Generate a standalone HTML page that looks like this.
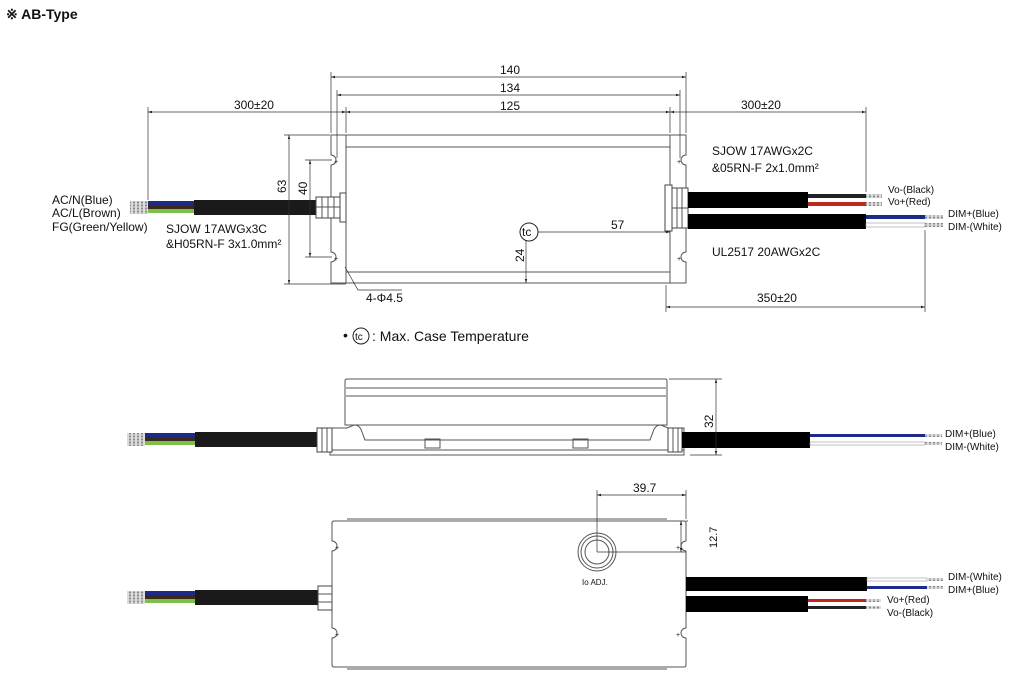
<!DOCTYPE html>
<html><head><meta charset="utf-8"><style>
html,body{margin:0;padding:0;background:#fff;}
svg{display:block;font-family:"Liberation Sans",Arial,sans-serif;}
.l{stroke:#555;stroke-width:1;fill:none}
.d{stroke:#333;stroke-width:0.7;fill:none}
.t{font-size:12px;fill:#111}
.s{font-size:10px;fill:#111}
</style></head><body>
<svg width="1024" height="684" viewBox="0 0 1024 684" xmlns="http://www.w3.org/2000/svg">
<defs>
<marker id="a" viewBox="0 0 10 10" refX="10" refY="5" markerWidth="6" markerHeight="6" orient="auto-start-reverse"><path d="M0,2 L10,5 L0,8z" fill="#222"/></marker>
<pattern id="st" width="4" height="3" patternUnits="userSpaceOnUse"><rect width="4" height="3" fill="#ddd"/><circle cx="2" cy="1.5" r="1.1" fill="#888"/></pattern>
</defs>
<text x="6" y="19" style="font-size:14px;font-weight:bold" fill="#111">※ AB-Type</text>

<!-- ===== TOP VIEW ===== -->
<path class="l" d="M331,135 H346 V283 H331 V262 a5,5 0 0 0 0,-10 V165 a5,5 0 0 0 0,-10 Z"/>
<path class="l" d="M686,135 H670 V283 H686 V262 a5,5 0 0 1 0,-10 V165 a5,5 0 0 1 0,-10 Z"/>
<rect class="l" x="346" y="135" width="324" height="148"/>
<line class="l" x1="346" y1="147" x2="670" y2="147"/>
<line class="l" x1="346" y1="272" x2="670" y2="272"/>
<text class="s" x="334" y="164" style="font-size:7px">+</text><text class="s" x="334" y="261" style="font-size:7px">+</text>
<text class="s" x="677" y="164" style="font-size:7px">+</text><text class="s" x="677" y="261" style="font-size:7px">+</text>
<!-- left cable -->
<rect x="130" y="201" width="18" height="13" fill="url(#st)"/>
<rect x="148" y="201" width="46" height="4" fill="#1c2a8a"/>
<rect x="148" y="205" width="46" height="4" fill="#3a2a1a"/>
<rect x="148" y="209" width="46" height="4" fill="#7cc04a"/>
<rect x="194" y="200" width="122" height="15" fill="#1a1a1a"/>
<rect x="316" y="197" width="24" height="21" fill="#fff" stroke="#444"/>
<path class="l" d="M322,197v21M328,197v21M334,197v21M316,207h24"/>
<rect x="340" y="193" width="6" height="29" fill="#fff" stroke="#444"/>
<!-- right cables -->
<rect x="665" y="185" width="7" height="46" fill="#fff" stroke="#444"/>
<rect x="672" y="188" width="16" height="40" fill="#fff" stroke="#444"/>
<path class="l" d="M677,188v40M682,188v40M672,208h16"/>
<rect x="688" y="192" width="120" height="16" fill="#000"/>
<rect x="808" y="194" width="58" height="4" fill="#222"/>
<rect x="808" y="202" width="58" height="4" fill="#c0261c"/>
<rect x="866" y="194" width="16" height="4" fill="url(#st)"/><rect x="866" y="202" width="16" height="4" fill="url(#st)"/>
<rect x="688" y="214" width="178" height="15" fill="#000"/>
<rect x="866" y="215" width="59" height="4" fill="#1c2a8a"/>
<rect x="866" y="223" width="59" height="4" fill="#fff" stroke="#999" stroke-width="0.6"/>
<rect x="925" y="215" width="18" height="4" fill="url(#st)"/><rect x="925" y="223" width="18" height="4" fill="url(#st)"/>
<!-- dims -->
<path class="d" d="M331,133V72M686,133V72M337,158V90M680,158V90M346,133V107M670,133V107M148,200V107M866,192V107"/>
<line class="d" x1="331" y1="77" x2="686" y2="77" marker-start="url(#a)" marker-end="url(#a)"/>
<line class="d" x1="337" y1="95" x2="680" y2="95" marker-start="url(#a)" marker-end="url(#a)"/>
<line class="d" x1="346" y1="112" x2="670" y2="112" marker-start="url(#a)" marker-end="url(#a)"/>
<line class="d" x1="148" y1="112" x2="346" y2="112" marker-start="url(#a)" marker-end="url(#a)"/>
<line class="d" x1="670" y1="112" x2="866" y2="112" marker-start="url(#a)" marker-end="url(#a)"/>
<text class="t" x="500" y="74">140</text><text class="t" x="500" y="92">134</text><text class="t" x="500" y="110">125</text>
<text class="t" x="234" y="109">300±20</text><text class="t" x="741" y="109">300±20</text>
<path class="d" d="M284,135H330M284,284H346M305,160H332M305,257H332"/>
<line class="d" x1="289" y1="135" x2="289" y2="284" marker-start="url(#a)" marker-end="url(#a)"/>
<line class="d" x1="310" y1="160" x2="310" y2="257" marker-start="url(#a)" marker-end="url(#a)"/>
<text class="t" transform="translate(286,193) rotate(-90)">63</text>
<text class="t" transform="translate(307,195) rotate(-90)">40</text>
<circle cx="529" cy="232" r="9" fill="#fff" stroke="#222"/><text class="t" x="522" y="236">tc</text>
<line class="d" x1="538" y1="232" x2="670" y2="232" marker-end="url(#a)"/>
<text class="t" x="611" y="229">57</text>
<line class="d" x1="526" y1="241" x2="526" y2="283" marker-end="url(#a)"/>
<text class="t" transform="translate(524,262) rotate(-90)">24</text>
<path class="d" d="M666,285V312M925,230V312M345,267L358,290H402"/>
<line class="d" x1="666" y1="307" x2="925" y2="307" marker-start="url(#a)" marker-end="url(#a)"/>
<text class="t" x="757" y="302">350±20</text>
<text class="t" x="366" y="302">4-Φ4.5</text>
<text class="t" x="52" y="204">AC/N(Blue)</text>
<text class="t" x="52" y="217">AC/L(Brown)</text>
<text class="t" x="52" y="231">FG(Green/Yellow)</text>
<text class="t" x="166" y="233">SJOW 17AWGx3C</text>
<text class="t" x="166" y="248">&amp;H05RN-F 3x1.0mm²</text>
<text class="t" x="712" y="155">SJOW 17AWGx2C</text>
<text class="t" x="712" y="172">&amp;05RN-F  2x1.0mm²</text>
<text class="t" x="712" y="256">UL2517 20AWGx2C</text>
<text class="s" x="888" y="193">Vo-(Black)</text><text class="s" x="888" y="205">Vo+(Red)</text>
<text class="s" x="948" y="217">DIM+(Blue)</text><text class="s" x="948" y="230">DIM-(White)</text>
<!-- legend -->
<text class="t" x="343" y="340" style="font-size:14px">•</text>
<circle cx="361" cy="336" r="8" fill="#fff" stroke="#222"/><text class="s" x="355" y="340">tc</text>
<text class="t" x="372" y="341" style="font-size:14px">: Max. Case Temperature</text>

<!-- ===== SIDE VIEW ===== -->
<path class="l" d="M345,381 Q345,379 347,379 H665 Q667,379 667,381 V425 H345 Z"/>
<path class="l" d="M346,388H666M346,396H666"/>
<path class="l" d="M330,455 V428 H347 L354,425 Q360,425 362,432 L365,440 H650 L653,432 Q655,425 661,425 L668,428 H684 V455 Z"/>
<line class="l" x1="331" y1="450" x2="684" y2="450"/>
<rect class="l" x="425" y="439" width="15" height="9"/>
<rect class="l" x="573" y="439" width="15" height="9"/>
<rect x="127" y="433" width="18" height="13" fill="url(#st)"/>
<rect x="145" y="433" width="50" height="4" fill="#1c2a8a"/>
<rect x="145" y="437" width="50" height="4" fill="#3a2a1a"/>
<rect x="145" y="441" width="50" height="4" fill="#7cc04a"/>
<rect x="195" y="432" width="122" height="15" fill="#1a1a1a"/>
<rect x="317" y="428" width="15" height="24" fill="#fff" stroke="#444"/><path class="l" d="M322,428v24M327,428v24"/>
<rect x="668" y="428" width="14" height="24" fill="#fff" stroke="#444"/><path class="l" d="M673,428v24M678,428v24"/>
<rect x="682" y="432" width="128" height="16" fill="#000"/>
<rect x="810" y="434" width="115" height="3" fill="#1c2a8a"/>
<rect x="810" y="442" width="115" height="3" fill="#fff" stroke="#999" stroke-width="0.6"/>
<rect x="925" y="434" width="17" height="3" fill="url(#st)"/><rect x="925" y="442" width="17" height="3" fill="url(#st)"/>
<text class="s" x="945" y="437">DIM+(Blue)</text><text class="s" x="945" y="450">DIM-(White)</text>
<path class="d" d="M669,379H722M690,455H722"/>
<line class="d" x1="716" y1="379" x2="716" y2="455" marker-start="url(#a)" marker-end="url(#a)"/>
<text class="t" transform="translate(713,428) rotate(-90)">32</text>

<!-- ===== BOTTOM VIEW ===== -->
<path class="l" d="M334,521 H684 Q686,521 686,523 V541 a5,5 0 0 0 0,10 V628 a5,5 0 0 0 0,10 V665 Q686,667 684,667 H334 Q332,667 332,665 V638 a5,5 0 0 0 0,-10 V551 a5,5 0 0 0 0,-10 V523 Q332,521 334,521 Z"/>
<path class="l" d="M347,519H667M347,669H667"/>
<text class="s" x="335" y="550" style="font-size:7px">+</text><text class="s" x="335" y="637" style="font-size:7px">+</text>
<text class="s" x="676" y="550" style="font-size:7px">+</text><text class="s" x="676" y="637" style="font-size:7px">+</text>
<circle class="l" cx="597" cy="552" r="19"/><circle class="l" cx="597" cy="552" r="16"/><circle class="l" cx="597" cy="552" r="12"/>
<text class="s" x="582" y="585" style="font-size:8px">Io  ADJ.</text>
<path class="d" d="M597,552V490M686,519V490M597,552H686M688,521H686"/>
<line class="d" x1="597" y1="495" x2="686" y2="495" marker-start="url(#a)" marker-end="url(#a)"/>
<text class="t" x="633" y="492">39.7</text>
<line class="d" x1="681" y1="521" x2="681" y2="552" marker-start="url(#a)" marker-end="url(#a)"/>
<text class="t" transform="translate(717,548) rotate(-90)" style="font-size:11px">12.7</text>
<rect x="127" y="591" width="18" height="13" fill="url(#st)"/>
<rect x="145" y="591" width="50" height="4" fill="#1c2a8a"/>
<rect x="145" y="595" width="50" height="4" fill="#3a2a1a"/>
<rect x="145" y="599" width="50" height="4" fill="#7cc04a"/>
<rect x="195" y="590" width="123" height="15" fill="#1a1a1a"/>
<rect x="318" y="586" width="14" height="24" fill="#fff" stroke="#444"/><path class="l" d="M318,594h14M318,602h14"/>
<rect x="686" y="577" width="181" height="14" fill="#000"/>
<rect x="867" y="578" width="60" height="3" fill="#fff" stroke="#999" stroke-width="0.6"/>
<rect x="867" y="586" width="60" height="3" fill="#1c2a8a"/>
<rect x="927" y="578" width="16" height="3" fill="url(#st)"/><rect x="927" y="586" width="16" height="3" fill="url(#st)"/>
<rect x="686" y="596" width="122" height="16" fill="#000"/>
<rect x="808" y="599" width="58" height="3" fill="#c0261c"/>
<rect x="808" y="606" width="58" height="3" fill="#222"/>
<rect x="866" y="599" width="15" height="3" fill="url(#st)"/><rect x="866" y="606" width="15" height="3" fill="url(#st)"/>
<text class="s" x="948" y="580">DIM-(White)</text><text class="s" x="948" y="593">DIM+(Blue)</text>
<text class="s" x="887" y="603">Vo+(Red)</text><text class="s" x="887" y="616">Vo-(Black)</text>
</svg>
</body></html>
